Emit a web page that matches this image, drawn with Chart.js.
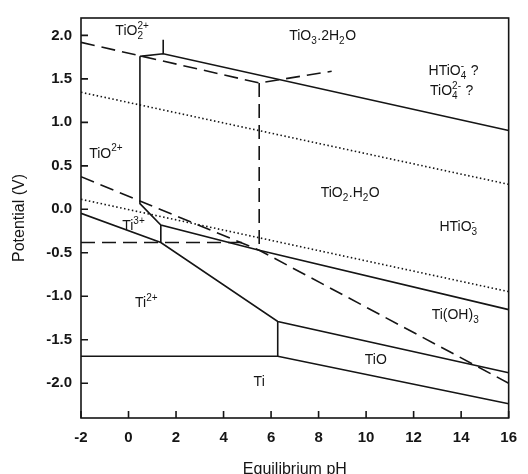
<!DOCTYPE html>
<html>
<head>
  <meta charset="utf-8">
  <title>Ti Pourbaix diagram</title>
  <script src="https://cdn.jsdelivr.net/npm/chart.js"></script>
  <style>
    body { margin: 0; background: #fff; }
    canvas { display: block; }
  </style>
</head>
<body>
  <canvas id="pourbaix" width="528" height="474"></canvas>

  <script>
    // axis ticks
    const xTicks = [-2, 0, 2, 4, 6, 8, 10, 12, 14, 16];
    const yTicks = [-2.0, -1.5, -1.0, -0.5, 0.0, 0.5, 1.0, 1.5, 2.0];

    // solid boundaries, [pH, E] points
    const tio2Upper   = [[0.48, 1.759], [1.46, 1.789], [16, 0.906]];
    const tio2Spike   = [[1.46, 1.789], [1.46, 1.95]];
    const tio2Lower   = [[0.48, 1.759], [0.48, 0.065], [1.36, -0.18], [5.5, -0.47], [16, -1.154]];
    const ti3Step     = [[1.36, -0.18], [1.36, -0.382]];
    const ti2Upper    = [[-2, -0.046], [1.36, -0.382], [6.28, -1.29], [16, -1.88]];
    const tiOStep     = [[6.28, -1.29], [6.28, -1.69]];
    const tiLower     = [[-2, -1.69], [6.28, -1.69], [16, -2.236]];

    // dashed boundaries
    const dashTop     = [[-2, 1.92], [5.5, 1.453], [8.55, 1.587]];
    const dashVert    = [[5.5, 1.453], [5.5, -0.47]];
    const dashDiag    = [[-2, 0.375], [5.5, -0.47], [16, -2.0]];
    const dashHoriz   = [[-2, -0.382], [5.0, -0.382]];

    // dotted water lines
    const dotUpper    = [[-2, 1.346], [16, 0.287]];
    const dotLower    = [[-2, 0.115], [16, -0.947]];

    // region names: text, pH, E  (_{} subscript, ^{} superscript)
    const regionNames = ['TiO_{2}^{2+}', 'TiO_{3}.2H_{2}O', 'HTiO_{4}^{-} ?', 'TiO_{4}^{2-} ?', 'TiO^{2+}',
      'TiO_{2}.H_{2}O', 'HTiO_{3}^{-}', 'Ti^{3+}', 'Ti^{2+}', 'Ti(OH)_{3}', 'TiO', 'Ti'];
    const regionPH = [0.16, 8.17, 13.68, 13.6, -0.94, 9.33, 13.89, 0.22, 0.76, 13.76, 10.41, 5.5];
    const regionE  = [2.05, 1.99, 1.59, 1.36, 0.64, 0.19, -0.21, -0.19, -1.08, -1.22, -1.73, -1.99];

    const FONT = '"Liberation Sans", Arial, Helvetica, sans-serif';
    const INK = '#151515';

    const pts = arr => arr.map(p => ({x: p[0], y: p[1]}));
    function line(arr, dash) {
      return {
        data: pts(arr), showLine: true, borderColor: INK, borderWidth: 1.6,
        borderDash: dash || [], pointRadius: 0, fill: false, tension: 0
      };
    }

    // frame + inward tick marks + region labels
    const decor = {
      id: 'decor',
      afterDraw(chart) {
        const {ctx, chartArea: a, scales: {x, y}} = chart;
        ctx.save();
        ctx.strokeStyle = INK;
        ctx.lineWidth = 1.6;
        ctx.strokeRect(a.left, a.top, a.right - a.left, a.bottom - a.top);
        ctx.beginPath();
        x.ticks.forEach(t => {
          const px = x.getPixelForValue(t.value);
          ctx.moveTo(px, a.bottom); ctx.lineTo(px, a.bottom - 7);
        });
        y.ticks.forEach(t => {
          const py = y.getPixelForValue(t.value);
          ctx.moveTo(a.left, py); ctx.lineTo(a.left + 7, py);
        });
        ctx.stroke();

        ctx.fillStyle = INK;
        ctx.textBaseline = 'middle';
        regionNames.forEach((txt, i) => {
          drawChem(ctx, txt, x.getPixelForValue(regionPH[i]), y.getPixelForValue(regionE[i]));
        });
        ctx.restore();
      }
    };

    // split "TiO_{2}^{2+}" into parts, stacking a sub directly followed by a sup
    function parseChem(txt) {
      const parts = [];
      const re = /_\{([^}]*)\}|\^\{([^}]*)\}|([^_^]+)/g;
      let m;
      while ((m = re.exec(txt))) {
        if (m[1] !== undefined) parts.push({sub: m[1]});
        else if (m[2] !== undefined) {
          const last = parts[parts.length - 1];
          if (last && last.sub !== undefined && last.sup === undefined) last.sup = m[2];
          else parts.push({sup: m[2]});
        } else parts.push({t: m[3]});
      }
      return parts;
    }

    function drawChem(ctx, txt, cx, cy) {
      const big = '14px ' + FONT, small = '10px ' + FONT;
      const parts = parseChem(txt);
      const widths = parts.map(p => {
        if (p.t !== undefined) { ctx.font = big; return ctx.measureText(p.t).width; }
        ctx.font = small;
        return Math.max(p.sub ? ctx.measureText(p.sub).width : 0, p.sup ? ctx.measureText(p.sup).width : 0) + 0.5;
      });
      let px = cx - widths.reduce((s, w) => s + w, 0) / 2;
      ctx.textAlign = 'left';
      parts.forEach((p, i) => {
        if (p.t !== undefined) { ctx.font = big; ctx.fillText(p.t, px, cy); }
        else {
          ctx.font = small;
          if (p.sub) ctx.fillText(p.sub, px, cy + 5);
          if (p.sup) ctx.fillText(p.sup, px, cy - 5);
        }
        px += widths[i];
      });
    }

    new Chart(document.getElementById('pourbaix'), {
      type: 'scatter',
      data: {
        datasets: [
          line(tio2Upper), line(tio2Spike), line(tio2Lower), line(ti3Step),
          line(ti2Upper), line(tiOStep), line(tiLower),
          line(dashTop, [14, 7]), line(dashVert, [14, 7]), line(dashDiag, [14, 7]), line(dashHoriz, [14, 7]),
          line(dotUpper, [1.5, 2.5]), line(dotLower, [1.5, 2.5])
        ]
      },
      options: {
        responsive: false,
        animation: false,
        layout: { padding: { top: 14, right: 12, left: 0, bottom: 0 } },
        plugins: { legend: { display: false }, tooltip: { enabled: false } },
        scales: {
          x: {
            type: 'linear', min: -2, max: 16,
            afterBuildTicks: s => { s.ticks = xTicks.map(v => ({value: v})); },
            afterFit: s => { s.height = 56; },
            grid: { display: false, drawTicks: false },
            border: { display: false },
            ticks: { color: INK, padding: 11, font: { size: 15, weight: 'bold', family: FONT } },
            title: { display: true, text: 'Equilibrium pH', color: INK,
                     font: { size: 16, family: FONT }, padding: { top: 0, bottom: -5 } }
          },
          y: {
            type: 'linear', min: -2.4, max: 2.2,
            afterBuildTicks: s => { s.ticks = yTicks.map(v => ({value: v})); },
            afterFit: s => { s.width = 81; },
            grid: { display: false, drawTicks: false },
            border: { display: false },
            ticks: { color: INK, padding: 9, font: { size: 15, weight: 'bold', family: FONT },
                     callback: v => v.toFixed(1) },
            title: { display: true, text: 'Potential (V)', color: INK,
                     font: { size: 16, family: FONT }, padding: { top: 10, bottom: 0 } }
          }
        }
      },
      plugins: [decor]
    });
  </script>
</body>
</html>
